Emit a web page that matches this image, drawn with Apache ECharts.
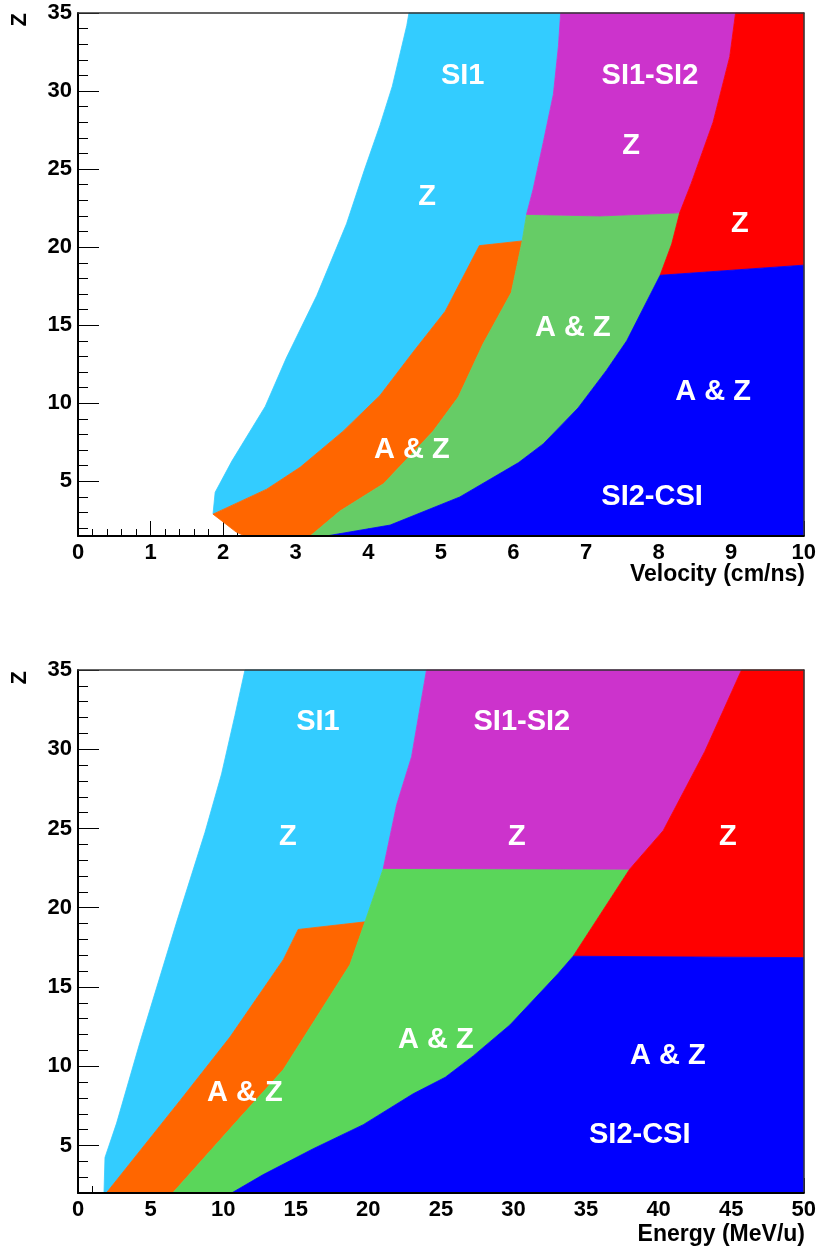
<!DOCTYPE html>
<html>
<head>
<meta charset="utf-8">
<script src="https://cdn.jsdelivr.net/npm/echarts@6/dist/echarts.min.js"></script>
<style>
  html, body { margin: 0; padding: 0; background: #fff; }
  #chart { width: 819px; height: 1249px; }
</style>
</head>
<body>
<div id="chart"></div>
<script>
// --- top panel: Z vs velocity (cm/ns), region outlines ---
const velSi1Z = [[4.56,35],[4.53,34.2],[4.33,30.3],[4.16,27.8],[3.95,25.0],[3.70,21.5],[3.29,16.9],[2.87,12.9],[2.58,9.8],[2.12,6.3],[1.89,4.3],[1.86,2.9],[2.60,4.5],[3.06,5.9],[3.65,8.2],[4.16,10.5],[4.62,13.3],[5.06,15.9],[5.53,20.1],[6.12,20.4],[6.18,22.1],[6.27,23.7],[6.41,26.7],[6.55,29.8],[6.62,32.9],[6.65,35]]
const velSi1AZ = [[1.86,2.9],[2.0,2.4],[2.18,1.75],[2.3,1.5],[3.2,1.5],[3.61,3.1],[4.21,4.85],[4.89,8.2],[5.24,10.4],[5.58,13.8],[5.97,17.1],[6.12,20.4],[5.53,20.1],[5.06,15.9],[4.62,13.3],[4.16,10.5],[3.65,8.2],[3.06,5.9],[2.60,4.5]]
const velSi12AZ = [[3.2,1.5],[3.42,1.5],[4.30,2.2],[5.26,4.0],[6.07,6.2],[6.41,7.4],[6.89,9.7],[7.28,12.1],[7.56,14.0],[8.02,18.2],[8.18,20.2],[8.29,22.2],[7.19,22.0],[6.18,22.1],[6.12,20.4],[5.97,17.1],[5.58,13.8],[5.24,10.4],[4.89,8.2],[4.21,4.85],[3.61,3.1]]
const velSi12Z = [[6.18,22.1],[7.19,22.0],[8.29,22.2],[8.45,24.1],[8.75,28.0],[8.98,32.2],[9.06,35],[6.65,35],[6.62,32.9],[6.55,29.8],[6.41,26.7],[6.27,23.7]]
const velCsiZ = [[8.29,22.2],[8.18,20.2],[8.02,18.2],[10,18.85],[10,35],[9.06,35],[8.98,32.2],[8.75,28.0],[8.45,24.1]]
const velCsiAZ = [[3.42,1.5],[10,1.5],[10,18.85],[8.02,18.2],[7.56,14.0],[7.28,12.1],[6.89,9.7],[6.41,7.4],[6.07,6.2],[5.26,4.0],[4.30,2.2]]
const velLabels = [[5.30,30.96,'SI1'],[4.81,23.2,'Z'],[7.88,30.96,'SI1-SI2'],[7.62,26.47,'Z'],[9.12,21.47,'Z'],[6.82,14.8,'A & Z'],[8.75,10.7,'A & Z'],[4.60,7.0,'A & Z'],[7.91,3.97,'SI2-CSI']]

// --- bottom panel: Z vs energy (MeV/u) ---
const enSi1Z = [[11.5,35],[10.81,32.13],[9.89,28.44],[8.75,24.76],[6.80,19.11],[4.27,11.51],[2.66,6.41],[1.86,4.24],[1.79,2.0],[1.95,2.0],[7.02,7.82],[10.47,11.84],[14.14,16.72],[15.17,18.63],[19.77,19.11],[21.03,22.48],[21.95,26.49],[22.98,29.53],[24.01,35]]
const enSi1AZ = [[1.95,2],[6.52,2],[10.93,6.52],[14.14,9.78],[18.73,16.4],[19.77,19.11],[15.17,18.63],[14.14,16.72],[10.47,11.84],[7.02,7.82]]
const enSi12AZ = [[6.52,2],[10.58,2],[12.76,3.16],[16.2,4.79],[19.65,6.31],[23.09,8.26],[25.3,9.3],[27.23,10.65],[29.75,12.6],[33.08,15.85],[34.11,16.94],[38.0,22.43],[21.03,22.48],[19.77,19.11],[18.73,16.4],[14.14,9.78],[10.93,6.52]]
const enSi12Z = [[21.03,22.48],[38.0,22.43],[40.31,24.86],[43.18,29.86],[45.71,35],[24.01,35],[22.98,29.53],[21.95,26.49]]
const enCsiZ = [[38.0,22.43],[40.31,24.86],[43.18,29.86],[45.71,35],[50,35],[50,16.85],[34.11,16.94]]
const enCsiAZ = [[10.58,2],[50,2],[50,16.85],[34.11,16.94],[33.08,15.85],[29.75,12.6],[27.23,10.65],[25.3,9.3],[23.09,8.26],[19.65,6.31],[16.2,4.79],[12.76,3.16]]
const enLabels = [[16.53,31.72,'SI1'],[14.46,24.47,'Z'],[30.58,31.72,'SI1-SI2'],[30.23,24.47,'Z'],[44.77,24.47,'Z'],[24.66,11.67,'A & Z'],[40.63,10.66,'A & Z'],[11.5,8.33,'A & Z'],[38.7,5.68,'SI2-CSI']]

const zMajor = [5, 10, 15, 20, 25, 30, 35]
const zMinor = [2,3,4,6,7,8,9,11,12,13,14,16,17,18,19,21,22,23,24,26,27,28,29,31,32,33,34]

const FONT = 'Liberation Sans'
const tickLabel = { fontFamily: FONT, fontWeight: 'bold', fontSize: 22, color: '#000' }
const off = { show: false }

function xAxes(grid, max, step) {
  return [
    {
      gridIndex: grid, type: 'value', min: 0, max: max, interval: step, position: 'bottom',
      axisLine: off, splitLine: off,
      axisTick: { inside: true, length: 15, lineStyle: { color: '#000', width: 1 } },
      minorTick: { show: true, splitNumber: 5, length: 7, lineStyle: { color: '#000', width: 1 } },
      axisLabel: { ...tickLabel, margin: 6, showMinLabel: true, showMaxLabel: true },
    },
    // frame lines drawn above the filled regions
    { gridIndex: grid, type: 'value', min: 0, max: max, position: 'bottom', z: 10,
      axisLine: { show: true, lineStyle: { color: '#000', width: 2 } }, axisTick: off, axisLabel: off, splitLine: off },
    { gridIndex: grid, type: 'value', min: 0, max: max, position: 'top', z: 10,
      axisLine: { show: true, lineStyle: { color: '#333', width: 1.5 } }, axisTick: off, axisLabel: off, splitLine: off },
  ]
}

function yAxes(grid, min) {
  return [
    {
      gridIndex: grid, type: 'value', min: min, max: 35, position: 'left',
      axisLine: off, splitLine: off,
      axisTick: { inside: true, length: 21, customValues: zMajor, lineStyle: { color: '#000', width: 1 } },
      axisLabel: { ...tickLabel, margin: 6, customValues: zMajor, showMaxLabel: true },
    },
    {
      gridIndex: grid, type: 'value', min: min, max: 35, position: 'left',
      axisLine: off, splitLine: off, axisLabel: off,
      axisTick: { inside: true, length: 10, customValues: zMinor, lineStyle: { color: '#000', width: 1 } },
    },
    { gridIndex: grid, type: 'value', min: min, max: 35, position: 'left', z: 10,
      axisLine: { show: true, lineStyle: { color: '#000', width: 2 } }, axisTick: off, axisLabel: off, splitLine: off },
    { gridIndex: grid, type: 'value', min: min, max: 35, position: 'right', z: 10,
      axisLine: { show: true, lineStyle: { color: '#333', width: 1.5 } }, axisTick: off, axisLabel: off, splitLine: off },
  ]
}

function region(pts, color, xi, yi) {
  return {
    type: 'custom', xAxisIndex: xi, yAxisIndex: yi, silent: true,
    data: pts,
    renderItem: (params, api) => {
      if (params.dataIndex !== 0) return null
      return {
        type: 'polygon',
        shape: { points: pts.map(p => api.coord(p)) },
        style: { fill: color, stroke: color, lineWidth: 0.8 },
      }
    },
  }
}

function labels(items, xi, yi) {
  return {
    type: 'scatter', xAxisIndex: xi, yAxisIndex: yi, silent: true, z: 5,
    symbolSize: 0, data: items,
    label: {
      show: true, position: 'inside', formatter: p => p.data[2],
      color: '#ffffff', textBorderWidth: 0, textShadowBlur: 0, opacity: 1,
      fontFamily: FONT, fontWeight: 'bold', fontSize: 29,
    },
  }
}

const CYAN = '#33ccff', ORANGE = '#ff6600', MAGENTA = '#cc33cc', RED = '#ff0000', BLUE = '#0000ff'

const chart = echarts.init(document.getElementById('chart'))
chart.setOption({
  animation: false,
  backgroundColor: '#fff',
  grid: [
    { left: 78, top: 13, width: 726, height: 523 },
    { left: 78, top: 670, width: 726, height: 523 },
  ],
  xAxis: [...xAxes(0, 10, 1), ...xAxes(1, 50, 5)],
  yAxis: [...yAxes(0, 1.5), ...yAxes(1, 2)],
  graphic: [
    { type: 'text', right: 14, top: 563, style: { text: 'Velocity (cm/ns)', font: 'bold 23px "Liberation Sans"', fill: '#000' } },
    { type: 'text', right: 14, top: 1223, style: { text: 'Energy (MeV/u)', font: 'bold 23px "Liberation Sans"', fill: '#000' } },
    { type: 'text', left: 9, top: 13, rotation: Math.PI / 2, style: { text: 'Z', font: 'bold 22px "Liberation Sans"', fill: '#000' } },
    { type: 'text', left: 9, top: 671, rotation: Math.PI / 2, style: { text: 'Z', font: 'bold 22px "Liberation Sans"', fill: '#000' } },
  ],
  series: [
    region(velSi1Z, CYAN, 0, 0),
    region(velSi1AZ, ORANGE, 0, 0),
    region(velSi12AZ, '#66cc66', 0, 0),
    region(velSi12Z, MAGENTA, 0, 0),
    region(velCsiZ, RED, 0, 0),
    region(velCsiAZ, BLUE, 0, 0),
    labels(velLabels, 0, 0),
    region(enSi1Z, CYAN, 3, 4),
    region(enSi1AZ, ORANGE, 3, 4),
    region(enSi12AZ, '#5ad65a', 3, 4),
    region(enSi12Z, MAGENTA, 3, 4),
    region(enCsiZ, RED, 3, 4),
    region(enCsiAZ, BLUE, 3, 4),
    labels(enLabels, 3, 4),
  ],
})
</script>
</body>
</html>
